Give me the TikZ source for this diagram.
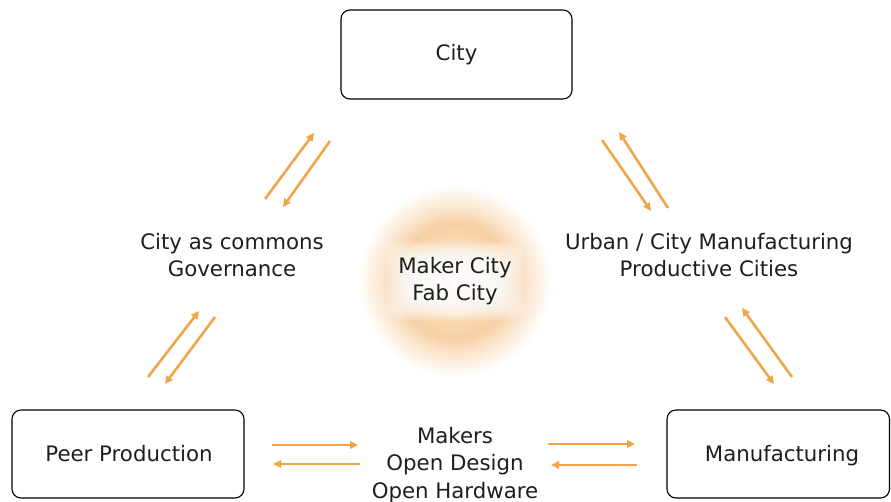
\documentclass[tikz,border=0pt]{standalone}
\usepackage{fontspec}
\setmainfont{DejaVu Sans}
\usetikzlibrary{arrows.meta}
\definecolor{arr}{RGB}{240,166,72}
\definecolor{glowc}{RGB}{247,208,164}
\definecolor{txt}{RGB}{30,30,30}
\pgfdeclareradialshading{glow}{\pgfpoint{0bp}{0bp}}{color(0bp)=(white); color(5bp)=(glowc!40); color(11bp)=(glowc!85); color(15bp)=(glowc); color(19bp)=(glowc!55); color(25bp)=(white); color(50bp)=(white)}
\begin{document}
\begin{tikzpicture}[x=1pt,y=-1pt,
  box/.style={draw=black,line width=1.1pt,rounded corners=9pt},
  lbl/.style={font=\fontsize{21.3}{27.5}\selectfont,text=txt,align=center,inner sep=0pt},
  arrw/.style={draw=arr,line width=2.6pt,-{Triangle[length=8pt,width=7.5pt]}}]
\useasboundingbox (0,0) rectangle (891,501);
% glow
\shade[shading=glow] (455,281) circle (96);
\foreach \d in {0,2,...,22}
  \fill[white,opacity=0.16,rounded corners=14pt] (386+\d,242+\d) rectangle (524-\d,320-\d);
% boxes
\draw[box] (341,10) rectangle (572,99);
\node[lbl] (city) at (456.5,54.5) {City};
\draw[box] (12,410) rectangle (244,498);
\node[lbl] (peer) at (129,454) {Peer Production};
\draw[box] (667,410) rectangle (889.5,498);
\node[lbl] (manu) at (782,456) {Manufacturing};
% labels
\node[lbl] (gov) at (232,255) {City as commons\\Governance};
\node[lbl] (urb) at (709,255) {Urban / City Manufacturing\\Productive Cities};
\node[lbl] (mk) at (455,281) {Maker City\\Fab City};
\node[lbl] (open) at (455,465) {Makers\\Open Design\\Open Hardware};
% arrow coordinates
\coordinate (a1s) at (265,199); \coordinate (a1e) at (314,133);
\coordinate (a2s) at (330,141); \coordinate (a2e) at (283,207);
\coordinate (b1s) at (148,377); \coordinate (b1e) at (199,311);
\coordinate (b2s) at (215,317); \coordinate (b2e) at (165,384);
\coordinate (c1s) at (602,140); \coordinate (c1e) at (651,211);
\coordinate (c2s) at (668,208); \coordinate (c2e) at (619,132);
\coordinate (d1s) at (725,317); \coordinate (d1e) at (774,384);
\coordinate (d2s) at (792,377); \coordinate (d2e) at (742,308);
\coordinate (e1s) at (272,445); \coordinate (e1e) at (358,445);
\coordinate (e2s) at (360,464); \coordinate (e2e) at (273,464);
\coordinate (f1s) at (548,444); \coordinate (f1e) at (635,444);
\coordinate (f2s) at (637,465); \coordinate (f2e) at (551,465);
\foreach \p in {a1,a2,b1,b2,c1,c2,d1,d2,e1,e2,f1,f2}
  \draw[arrw] (\p s) -- (\p e);
\end{tikzpicture}
\end{document}
